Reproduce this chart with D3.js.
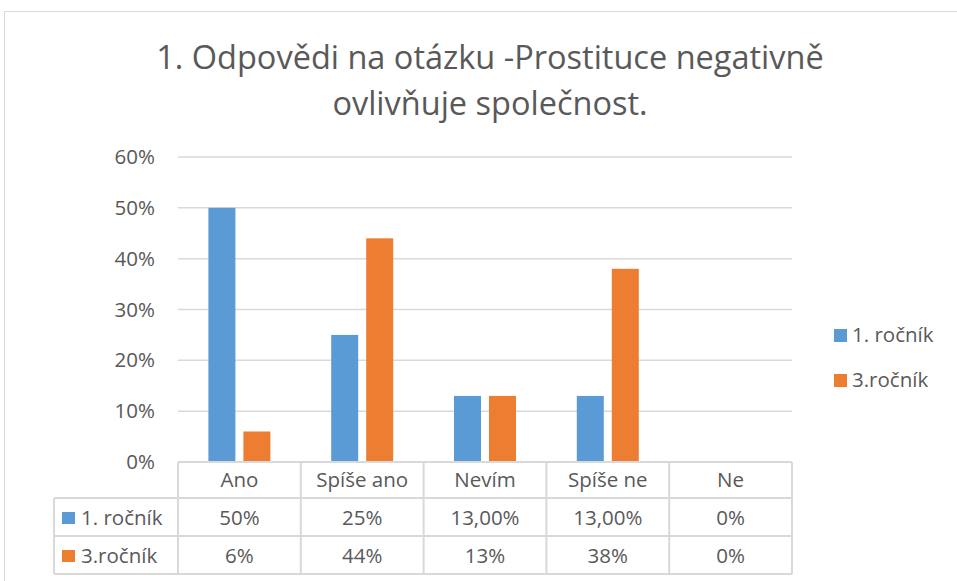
<!DOCTYPE html>
<html>
<head>
<meta charset="utf-8">
<script src="https://cdn.jsdelivr.net/npm/d3@7"></script>
<style>
  body { margin: 0; background: #fff; }
  svg { display: block; font-family: "Open Sans", "Noto Sans", sans-serif; }
</style>
</head>
<body>
<div id="chart"></div>
<script>
// data
var categories = ["Ano", "Spíše ano", "Nevím", "Spíše ne", "Ne"];
var seriesNames = ["1. ročník", "3.ročník"];
var rocnik1 = [0.50, 0.25, 0.13, 0.13, 0];
var rocnik3 = [0.06, 0.44, 0.13, 0.38, 0];
var tableRow1 = ["50%", "25%", "13,00%", "13,00%", "0%"];
var tableRow3 = ["6%", "44%", "13%", "38%", "0%"];
var yTicks = [0, 0.1, 0.2, 0.3, 0.4, 0.5, 0.6];
var colors = ["#5b9bd5", "#ed7d31"];

var W = 957, H = 581;
var svg = d3.select("#chart").append("svg")
  .attr("width", W).attr("height", H);

// chart border
svg.append("rect")
  .attr("x", 4.5).attr("y", 11.5)
  .attr("width", W + 10).attr("height", H + 10)
  .attr("fill", "#fff").attr("stroke", "#d9d9d9").attr("stroke-width", 1);

// title
var title = svg.append("text")
  .attr("text-anchor", "middle")
  .attr("fill", "#595959")
  .style("font-size", "32.5px");
title.append("tspan").attr("x", 490).attr("y", 69).text("1. Odpovědi na otázku -Prostituce negativně");
title.append("tspan").attr("x", 490).attr("y", 115).text("ovlivňuje společnost.");

var plotLeft = 178, plotRight = 792, plotTop = 157, plotBottom = 462;
var fs = "20.5px";

var x = d3.scaleBand().domain(categories).range([plotLeft, plotRight]);
var y = d3.scaleLinear().domain([0, 0.6]).range([plotBottom, plotTop]);

// gridlines
svg.append("g").selectAll("line")
  .data(yTicks.filter(function(d) { return d > 0; }))
  .enter().append("line")
  .attr("x1", plotLeft).attr("x2", plotRight)
  .attr("y1", function(d) { return y(d); })
  .attr("y2", function(d) { return y(d); })
  .attr("stroke", "#d9d9d9").attr("stroke-width", 1.5);

// y axis labels
svg.append("g").selectAll("text")
  .data(yTicks).enter().append("text")
  .attr("x", 155)
  .attr("y", function(d) { return y(d) + 7; })
  .attr("text-anchor", "end")
  .attr("fill", "#595959")
  .style("font-size", fs)
  .text(function(d) { return d3.format(".0%")(d); });

// bars
var barW = 27, gap = 8;
var series = [rocnik1, rocnik3];
series.forEach(function(vals, s) {
  svg.append("g").selectAll("rect")
    .data(vals).enter().append("rect")
    .attr("x", function(d, i) {
      var c = x(categories[i]) + x.bandwidth() / 2;
      return s === 0 ? c - gap / 2 - barW : c + gap / 2;
    })
    .attr("y", function(d) { return y(d); })
    .attr("width", barW)
    .attr("height", function(d) { return plotBottom - y(d); })
    .attr("fill", colors[s]);
});

// data table
var tableLeft = 54;
var rowH = [plotBottom, 498, 536, 574];
var tg = svg.append("g");
var lineColor = "#d9d9d9";

// horizontal lines
tg.append("line").attr("x1", plotLeft).attr("x2", plotRight)
  .attr("y1", rowH[0]).attr("y2", rowH[0]).attr("stroke", lineColor).attr("stroke-width", 2);
[1, 2, 3].forEach(function(r) {
  tg.append("line").attr("x1", tableLeft).attr("x2", plotRight)
    .attr("y1", rowH[r]).attr("y2", rowH[r]).attr("stroke", lineColor).attr("stroke-width", 2);
});
// vertical lines
tg.append("line").attr("x1", tableLeft).attr("x2", tableLeft)
  .attr("y1", rowH[1]).attr("y2", rowH[3]).attr("stroke", lineColor).attr("stroke-width", 2);
categories.forEach(function(c) {
  tg.append("line").attr("x1", x(c)).attr("x2", x(c))
    .attr("y1", rowH[0]).attr("y2", rowH[3]).attr("stroke", lineColor).attr("stroke-width", 2);
});
tg.append("line").attr("x1", plotRight).attr("x2", plotRight)
  .attr("y1", rowH[0]).attr("y2", rowH[3]).attr("stroke", lineColor).attr("stroke-width", 2);

// header row
tg.selectAll("text.cat").data(categories).enter().append("text")
  .attr("class", "cat")
  .attr("x", function(d) { return x(d) + x.bandwidth() / 2; })
  .attr("y", 487)
  .attr("text-anchor", "middle").attr("fill", "#595959")
  .style("font-size", fs)
  .text(function(d) { return d; });

[tableRow1, tableRow3].forEach(function(row, r) {
  var yy = r === 0 ? 525 : 563;
  tg.append("g").selectAll("text").data(row).enter().append("text")
    .attr("x", function(d, i) { return x(categories[i]) + x.bandwidth() / 2; })
    .attr("y", yy)
    .attr("text-anchor", "middle").attr("fill", "#595959")
    .style("font-size", fs)
    .text(function(d) { return d; });
  tg.append("rect").attr("x", 62).attr("y", yy - 13).attr("width", 13).attr("height", 12)
    .attr("fill", colors[r]);
  tg.append("text").attr("x", 81).attr("y", yy)
    .attr("fill", "#595959").style("font-size", fs)
    .text(seriesNames[r]);
});

// legend
var legend = svg.append("g");
seriesNames.forEach(function(n, i) {
  var ly = 342 + i * 45;
  legend.append("rect").attr("x", 834).attr("y", ly - 13).attr("width", 13).attr("height", 13)
    .attr("fill", colors[i]);
  legend.append("text").attr("x", 852).attr("y", ly)
    .attr("fill", "#595959").style("font-size", fs)
    .text(n);
});
</script>
</body>
</html>
